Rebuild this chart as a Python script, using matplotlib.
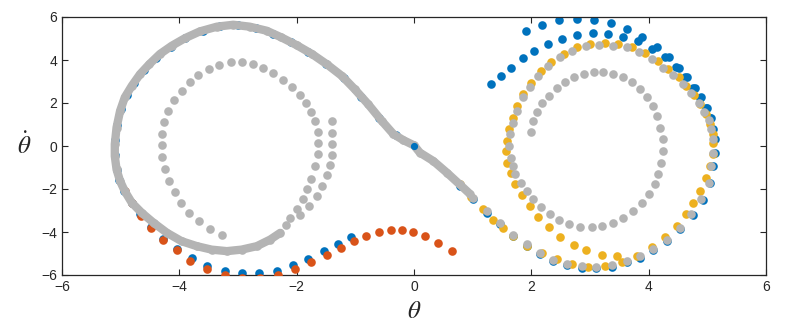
import matplotlib
matplotlib.use("Agg")
import matplotlib.pyplot as plt

plt.rcParams["font.family"] = ["Liberation Sans", "DejaVu Sans"]
plt.rcParams["mathtext.fontset"] = "stix"

BLUE = "#0072BD"
ORANGE = "#D95319"
YELLOW = "#EDB120"
GRAY = "#B4B4B4"

# gray trajectory, slow (dense) part: near the origin and round the left lobe
gray_dense_th = [0.95, 0.78, 0.56, 0.33, 0.10, 0.00, -0.18, -0.35, -0.55, -0.78, -1.01, -1.23,
                 -1.49, -1.74, -2.00, -2.26, -2.51, -2.80, -3.08, -3.36, -3.65, -3.90, -4.13,
                 -4.33, -4.51, -4.67, -4.81, -4.93, -5.01, -5.07, -5.10, -5.10, -5.07, -5.01,
                 -4.93, -4.81, -4.64, -4.44, -4.21, -3.96, -3.70, -3.45, -3.19, -2.94, -2.68,
                 -2.45, -2.28]
gray_dense_dth = [-2.22, -1.79, -1.24, -0.70, -0.31, 0.03, 0.27, 0.55, 1.17, 1.94, 2.64, 3.26,
                  3.81, 4.28, 4.69, 5.05, 5.36, 5.55, 5.64, 5.55, 5.33, 5.02, 4.66,
                  4.28, 3.81, 3.34, 2.80, 2.26, 1.63, 0.86, 0.08, -0.47, -1.09, -1.63,
                  -2.10, -2.64, -3.11, -3.57, -4.04, -4.43, -4.66, -4.82, -4.89, -4.82, -4.66,
                  -4.35, -4.04]

# gray, left lobe: inner column + inner ring
gray_left_a_th = [-2.18, -2.11, -2.00, -1.90, -1.82, -1.76, -1.69, -1.64, -1.63, -1.64, -1.69,
                  -1.76, -1.84, -1.95, -2.08, -2.23, -2.40, -2.57, -2.74, -2.94, -3.12, -3.32,
                  -3.49, -3.68, -3.82, -3.96, -4.09, -4.19, -4.26, -4.29, -4.30, -4.29, -4.24,
                  -4.17, -4.08, -3.97, -3.83, -3.66, -3.48, -3.27]
gray_left_a_dth = [-3.68, -3.34, -2.95, -2.48, -2.02, -1.52, -0.93, -0.39, 0.16, 0.67, 1.14,
                   1.56, 1.98, 2.38, 2.75, 3.08, 3.38, 3.62, 3.81, 3.89, 3.89, 3.78,
                   3.58, 3.30, 2.96, 2.56, 2.13, 1.63, 1.12, 0.58, 0.03, -0.50, -1.05,
                   -1.63, -2.14, -2.64, -3.11, -3.50, -3.85, -4.12]

# gray, left lobe: outer column
gray_left_b_th = [-1.39, -1.40, -1.39, -1.39, -1.43, -1.48, -1.56, -1.66, -1.79, -1.94]
gray_left_b_dth = [1.14, 0.62, 0.08, -0.42, -0.90, -1.37, -1.86, -2.33, -2.80, -3.23]

# gray, right lobe (spiral)
gray_right_th = [1.01, 1.24, 1.47, 1.69, 1.92, 2.15, 2.37, 2.60, 2.86, 3.11, 3.37, 3.63,
                 3.85, 4.08, 4.31, 4.53, 4.73, 4.90, 5.02, 5.07, 5.10, 5.10, 5.07, 5.02, 4.95,
                 4.85, 4.72, 4.58, 4.42, 4.25, 4.05, 3.84, 3.63, 3.40, 3.16, 2.93, 2.70, 2.49,
                 2.29, 2.12, 1.98, 1.85, 1.75, 1.68, 1.64, 1.62, 1.65, 1.69, 1.73, 1.82, 1.92,
                 2.03, 2.16, 2.32, 2.48, 2.65, 2.83, 3.03, 3.21, 3.40, 3.57, 3.73, 3.88, 4.00,
                 4.10, 4.16, 4.21, 4.24, 4.24, 4.20, 4.15, 4.08, 3.98, 3.85, 3.71, 3.56, 3.40,
                 3.23, 3.06, 2.89, 2.73, 2.57, 2.43, 2.30, 2.19, 2.10, 2.03, 1.99]
gray_right_dth = [-2.41, -3.03, -3.57, -4.12, -4.58, -4.97, -5.28, -5.47, -5.59, -5.62,
                  -5.55, -5.33, -5.13, -4.77, -4.35, -3.81, -3.18, -2.48, -1.71, -0.93, -0.31,
                  0.31, 0.78, 1.20, 1.60, 2.02, 2.46, 2.88, 3.30, 3.65, 4.04, 4.35, 4.59, 4.66,
                  4.71, 4.63, 4.43, 4.12, 3.70, 3.26, 2.75, 2.26, 1.63, 1.09, 0.55, 0.00, -0.54,
                  -0.93, -1.32, -1.71, -2.10, -2.45, -2.84, -3.14, -3.42, -3.65, -3.76, -3.78,
                  -3.73, -3.57, -3.36, -3.03, -2.67, -2.25, -1.79, -1.29, -0.78, -0.23, 0.31,
                  0.86, 1.40, 1.86, 2.28, 2.64, 2.96, 3.19, 3.34, 3.42, 3.42, 3.34, 3.19, 2.96,
                  2.69, 2.33, 1.98, 1.56, 1.14, 0.67]

# yellow trajectory
yellow_th = [0.78, 0.98, 1.18, 1.35, 1.52, 1.69, 1.92, 2.18, 2.43, 2.69, 2.97, 3.26, 3.54, 3.80,
             4.05, 4.28, 4.48, 4.64, 4.76, 4.87, 4.98, 5.05, 5.09, 5.10, 5.09, 5.05, 4.98, 4.87,
             4.77, 4.64, 4.51, 4.33, 4.16, 3.94, 3.71, 3.47, 3.25, 3.00, 2.77, 2.55, 2.34, 2.16,
             1.99, 1.85, 1.75, 1.68, 1.62, 1.58, 1.57, 1.59, 1.66, 1.73, 1.84, 1.97, 2.12, 2.30,
             2.49, 2.72, 2.94, 3.20, 3.46]
yellow_dth = [-1.75, -2.35, -2.95, -3.42, -3.81, -4.20, -4.66, -4.97, -5.24, -5.47, -5.62, -5.56,
              -5.41, -5.10, -4.69, -4.22, -3.70, -3.18, -2.64, -2.10, -1.47, -0.93, -0.39, 0.16,
              0.55, 1.01, 1.48, 1.94, 2.38, 2.80, 3.19, 3.57, 3.96, 4.31, 4.59, 4.74, 4.77, 4.74,
              4.59, 4.27, 3.92, 3.47, 2.95, 2.41, 1.87, 1.32, 0.78, 0.23, -0.23, -0.78, -1.24,
              -1.75, -2.30, -2.80, -3.29, -3.76, -4.21, -4.60, -4.85, -5.05, -5.10]

# blue trajectories: two arcs coming in at the top right
blue_a_th = [1.32, 1.48, 1.65, 1.85, 2.05, 2.29, 2.53, 2.78, 3.05, 3.30, 3.56, 3.82, 4.05, 4.28,
             4.47, 4.62, 4.76, 4.88, 4.97, 5.04]
blue_a_dth = [2.88, 3.26, 3.65, 4.07, 4.43, 4.74, 5.00, 5.17, 5.25, 5.21, 5.08, 4.90, 4.51, 4.12,
              3.68, 3.20, 2.72, 2.25, 1.78, 1.30]
blue_b_th = [1.91, 2.19, 2.48, 2.77, 3.06, 3.35, 3.63, 3.88, 4.14, 4.35, 4.51, 4.66, 4.79, 4.90,
             4.99, 5.06]
blue_b_dth = [5.36, 5.64, 5.84, 5.90, 5.86, 5.70, 5.44, 5.05, 4.59, 4.12, 3.65, 3.19, 2.72, 2.26,
              1.79, 1.32]
# blue riding just outside the gray curve (right lobe, S-curve)
blue_c_th = [5.10, 5.13, 5.13, 5.10, 5.05, 4.93, 4.75, 4.53, 4.31, 4.08, 3.85, 3.63, 3.37, 3.11,
             2.86, 2.60, 2.37, 2.15, 1.92, 1.69, 1.47, 1.24, 1.01, 0.78]
blue_c_dth = [0.78, 0.31, -0.31, -0.93, -1.72, -2.50, -3.22, -3.88, -4.42, -4.84, -5.20, -5.40,
              -5.62, -5.69, -5.66, -5.54, -5.35, -5.04, -4.65, -4.19, -3.64, -3.10, -2.48, -1.86]
# blue round the left lobe and out along the bottom
blue_d_th = [-0.30, -0.60, -0.90, -1.20, -1.50, -1.80, -2.10, -2.40, -2.70, -3.00, -3.30, -3.60,
             -3.90, -4.15, -4.40, -4.60, -4.77, -4.90, -5.00, -5.07, -5.10, -5.10, -5.07, -5.02,
             -4.95, -4.81, -4.67, -4.49, -4.27, -4.04, -3.78, -3.52, -3.23, -2.94, -2.64, -2.34,
             -2.06, -1.80, -1.53, -1.29, -1.07]
blue_d_dth = [0.50, 1.30, 2.30, 3.15, 3.83, 4.36, 4.83, 5.22, 5.50, 5.63, 5.58, 5.37, 5.02, 4.62,
              4.10, 3.55, 2.95, 2.35, 1.70, 1.00, 0.30, -0.40, -1.10, -1.60, -2.10, -2.64, -3.18,
              -3.76, -4.32, -4.78, -5.20, -5.59, -5.80, -5.92, -5.92, -5.80, -5.55, -5.24, -4.89,
              -4.58, -4.24]
blue_origin_th = [0.0]
blue_origin_dth = [0.0]

# orange trajectory
orange_th = [-4.93, -4.81, -4.66, -4.49, -4.28, -4.04, -3.81, -3.52, -3.23, -2.93, -2.62, -2.32,
             -2.03, -1.76, -1.49, -1.25, -1.02, -0.81, -0.60, -0.40, -0.21, -0.01, 0.19, 0.41,
             0.64]
orange_dth = [-2.10, -2.67, -3.26, -3.81, -4.35, -4.86, -5.33, -5.72, -5.98, -6.15, -6.15, -5.98,
              -5.70, -5.41, -5.05, -4.74, -4.43, -4.20, -4.02, -3.92, -3.92, -4.01, -4.20, -4.50,
              -4.89]

ms = 6.2
fig = plt.figure(figsize=(8.05, 3.33), dpi=100)
ax = fig.add_axes([62 / 805, 1 - 275 / 333, (766 - 62) / 805, (275 - 17) / 333])

for th, dth in [(blue_a_th, blue_a_dth), (blue_b_th, blue_b_dth),
                (blue_c_th, blue_c_dth), (blue_d_th, blue_d_dth)]:
    ax.plot(th, dth, "o", color=BLUE, ms=ms, mew=0, zorder=2)
ax.plot(orange_th, orange_dth, "o", color=ORANGE, ms=ms, mew=0, zorder=3)
ax.plot(yellow_th, yellow_dth, "o", color=YELLOW, ms=ms, mew=0, zorder=4)

ax.plot(gray_dense_th, gray_dense_dth, "-", color=GRAY, lw=6.0, solid_capstyle="round",
        solid_joinstyle="round", zorder=5)
for th, dth in [(gray_dense_th, gray_dense_dth), (gray_left_a_th, gray_left_a_dth),
                (gray_left_b_th, gray_left_b_dth), (gray_right_th, gray_right_dth)]:
    ax.plot(th, dth, "o", color=GRAY, ms=ms, mew=0, zorder=5)
ax.plot(blue_origin_th, blue_origin_dth, "o", color=BLUE, ms=ms - 1, mew=0, zorder=6)

ax.set_xlim(-6, 6)
ax.set_ylim(-6, 6)
ax.set_xticks(range(-6, 7, 2))
ax.set_yticks(range(-6, 7, 2))
ax.tick_params(direction="in", top=True, right=True, length=4.5, width=0.8,
               colors="#262626", labelsize=10)
for s in ax.spines.values():
    s.set_color("#262626")
    s.set_linewidth(0.9)

ax.set_xlabel(r"$\theta$", fontsize=18, color="#262626", labelpad=4)
ax.set_ylabel(r"$\dot{\theta}$", fontsize=18, color="#262626", rotation=0,
              va="center", labelpad=12)

fig.savefig("out.png", dpi=100)
